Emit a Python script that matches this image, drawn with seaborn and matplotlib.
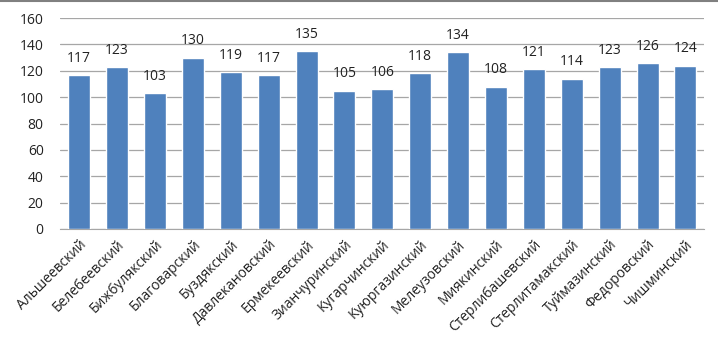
import pandas as pd
import seaborn as sns
import matplotlib.pyplot as plt
from matplotlib.lines import Line2D

districts = [
    "Альшеевский", "Белебеевский", "Бижбулякский", "Благоварский",
    "Буздякский", "Давлекановский", "Ермекеевский", "Зианчуринский",
    "Кугарчинский", "Куюргазинский", "Мелеузовский", "Миякинский",
    "Стерлибашевский", "Стерлитамакский", "Туймазинский", "Федоровский",
    "Чишминский",
]
values = [117, 123, 103, 130, 119, 117, 135, 105, 106, 118, 134, 108,
          121, 114, 123, 126, 124]
y_ticks = [0, 20, 40, 60, 80, 100, 120, 140, 160]

df = pd.DataFrame({"district": districts, "value": values})

sns.set_style("white")
plt.rcParams["font.family"] = ["Open Sans", "DejaVu Sans"]

fig = plt.figure(figsize=(7.18, 3.48), dpi=100)
ax = fig.add_axes([0.084, 0.342, 0.897, 0.606])

sns.barplot(data=df, x="district", y="value", color="#4F81BD",
            width=0.58, saturation=1, ax=ax, zorder=3)

ax.set_ylim(0, 160)
ax.set_yticks(y_ticks)
ax.yaxis.grid(True, color="#A6A6A6", linewidth=0.9, zorder=0)
ax.set_axisbelow(True)
ax.set_xlim(-0.5, len(districts) - 0.5)
for s in ["top", "right", "left"]:
    ax.spines[s].set_visible(False)
ax.spines["bottom"].set_color("#A6A6A6")
ax.set_xlabel("")
ax.set_ylabel("")
ax.tick_params(axis="y", length=0, labelsize=10, colors="#222222", pad=12)
ax.tick_params(axis="x", length=0, labelsize=10, colors="#222222", pad=6)
plt.setp(ax.get_xticklabels(), rotation=45, ha="right", rotation_mode="anchor")

for i, v in enumerate(values):
    ax.text(i, v + 7, str(v), ha="center", va="bottom", fontsize=10,
            color="#222222")

fig.add_artist(Line2D([0, 1], [0.998, 0.998], color="#808080",
                      linewidth=1.5, transform=fig.transFigure))

fig.savefig("out.png", dpi=100)
